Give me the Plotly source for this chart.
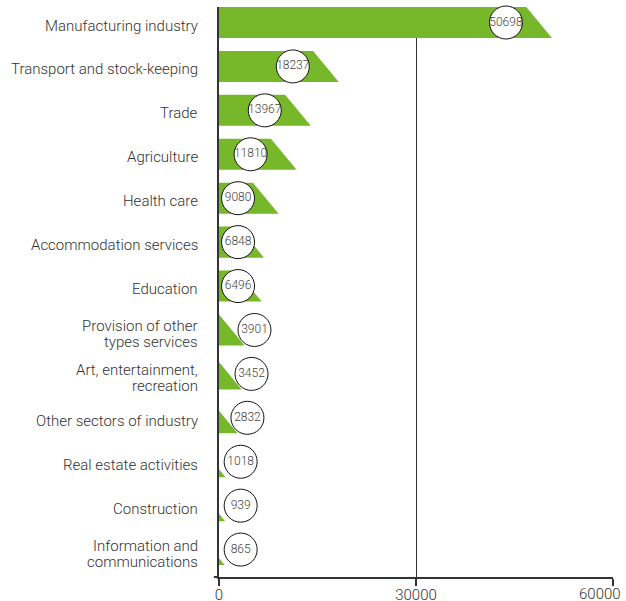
import plotly.graph_objects as go

categories = [
    "Manufacturing industry",
    "Transport and stock-keeping",
    "Trade",
    "Agriculture",
    "Health care",
    "Accommodation services",
    "Education",
    "Provision of other<br>types services",
    "Art, entertainment,<br>recreation",
    "Other sectors of industry",
    "Real estate activities",
    "Construction",
    "Information and<br>communications",
]
values = [50698, 18237, 13967, 11810, 9080, 6848, 6496, 3901, 3452, 2832, 1018, 939, 865]
x_ticks = [0, 30000, 60000]
x_tick_labels = ["0", "30000", ""]

GREEN = "#77b82a"
DARK = "#333333"
HALF = 0.353      # half bar thickness in category units
SLANT = 3900      # horizontal run of the slanted end, data units

# bar polygons (slanted right end), clipped at x=0 by the plot area
px, py = [], []
for i, v in enumerate(values):
    top, bot = i - HALF, i + HALF
    left = min(0, v - SLANT)
    px += [left, v - SLANT, v, left, left, None]
    py += [top, top, bot, bot, top, None]

# label circle positions
lx = []
for v in values:
    if v >= 5000:
        lx.append(max(v - 7000, 2900))
    else:
        lx.append(max(v + 1500, 3300))
ly = list(range(len(values)))

fig = go.Figure()
fig.add_trace(go.Scatter(x=px, y=py, mode="lines", fill="toself", fillcolor=GREEN,
                         line=dict(width=0, color=GREEN), hoverinfo="skip", showlegend=False))
fig.add_trace(go.Scatter(x=lx, y=ly, mode="markers+text", text=[str(v) for v in values],
                         textposition="middle center",
                         textfont=dict(family="Roboto", size=12, color="#444444"),
                         marker=dict(size=33, color="white", line=dict(color="#111111", width=1)),
                         cliponaxis=False, showlegend=False, hoverinfo="skip"))

LABEL_FONT = dict(family="Roboto", size=15, color=DARK, weight=300)

fig.update_layout(
    width=626, height=601,
    margin=dict(l=219, r=13, t=7, b=24),
    paper_bgcolor="white", plot_bgcolor="white",
    font=LABEL_FONT,
    showlegend=False,
)
fig.update_xaxes(
    range=[0, 60000], tickvals=x_ticks, ticktext=x_tick_labels, automargin=False,
    showgrid=True, gridcolor=DARK, gridwidth=1, zeroline=False,
    showline=True, linecolor=DARK, linewidth=2,
    ticks="outside", ticklen=7, tickwidth=1.5, tickcolor=DARK,
    ticklabelstandoff=-4, tickfont=LABEL_FONT,
)
fig.update_yaxes(
    range=[12.624, -0.353], tickvals=ly, ticktext=[""] * len(ly), automargin=False,
    showgrid=False, zeroline=False, showline=True, linecolor=DARK, linewidth=2,
    ticks="",
)
# category labels (multi-line ones with tighter line spacing)
for i, cat in enumerate(categories):
    lines = cat.split("<br>")
    shifts = [-3] if len(lines) == 1 else [3.5, -12.5]
    for line, s in zip(lines, shifts):
        fig.add_annotation(x=0, xref="paper", y=i, yref="y", xshift=-19, yshift=s,
                           text=line, showarrow=False, xanchor="right", yanchor="middle",
                           font=LABEL_FONT)
fig.add_annotation(x=60000, xref="x", y=0, yref="paper", yshift=-6, xshift=10,
                   text="60000", showarrow=False, xanchor="right", yanchor="top",
                   font=LABEL_FONT)
fig.add_shape(type="line", xref="paper", yref="paper", x0=-0.013, x1=0, y0=0, y1=0,
              line=dict(color=DARK, width=2))
fig.write_html("out.html", config={"displayModeBar": False},
               post_script="document.body.style.margin='0';")
